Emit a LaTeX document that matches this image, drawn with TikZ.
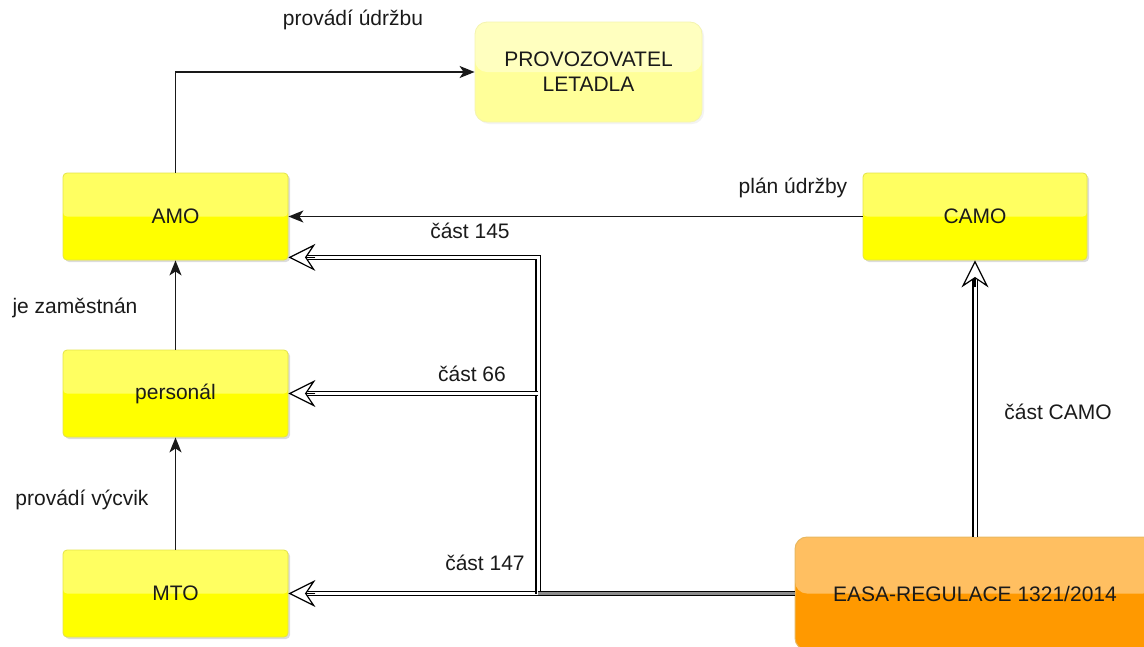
\documentclass[tikz,border=0pt]{standalone}
\usepackage{fontspec}
\setmainfont{Liberation Sans}
\usetikzlibrary{arrows.meta,shadows,calc}
\definecolor{boxyellow}{HTML}{FFFF00}
\definecolor{boxedge}{HTML}{E3E34A}
\definecolor{paleyellow}{HTML}{FFFF99}
\definecolor{paleedge}{HTML}{F4F4B0}
\definecolor{easaorange}{HTML}{FF9900}
\definecolor{easaedge}{HTML}{E8B860}
\definecolor{txt}{HTML}{1A1A1A}
\tikzset{
  glass/.style={path picture={\fill[white,opacity=0.38] (path picture bounding box.north west) rectangle (path picture bounding box.east);}},
  ybox/.style={draw=boxedge, line width=0.8pt, fill=boxyellow, rounded corners=4pt,
    minimum width=225pt, minimum height=87pt, inner sep=0pt, glass, text=txt,
    drop shadow={shadow xshift=2pt, shadow yshift=-2pt, fill=black!30, opacity=0.45}},
  pbox/.style={draw=paleedge, line width=0.8pt, fill=paleyellow, rounded corners=12pt,
    minimum width=227pt, minimum height=100pt, inner sep=0pt, glass, align=center, text=txt,
    drop shadow={shadow xshift=2pt, shadow yshift=-2pt, fill=black!12, opacity=0.4}},
  obox/.style={draw=easaedge, line width=1pt, fill=easaorange, rounded corners=12pt,
    minimum width=360pt, minimum height=113pt, inner sep=0pt, glass, text=txt},
  lbl/.style={text=txt, inner sep=0pt},
  conn/.style={draw=black!90, line width=1.6pt, -{Stealth[length=15pt,width=12pt,inset=4pt]}},
  dbl/.style={draw=black, line width=1.1pt, double=white, double distance=3pt},
  opentip/.style={draw=black, line width=1.2pt, -{Stealth[length=27pt,width=27pt,inset=9pt,fill=white]}},
}
\begin{document}
\begin{tikzpicture}[x=1pt,y=-1pt,font=\fontsize{21}{25}\selectfont]
\useasboundingbox (0,0) rectangle (1144,646);
% boxes
\node[pbox] (prov) at (588.5,72) {PROVOZOVATEL\\LETADLA};
\node[ybox] (amo) at (175.5,216.5) {AMO};
\node[ybox] (pers) at (175.5,393.5) {personál};
\node[ybox] (mto) at (175.5,593.5) {MTO};
\node[ybox, minimum width=224pt] (camo) at (975,216.5) {CAMO};
\node[obox] (easa) at (975,593.5) {EASA-REGULACE 1321/2014};
% single connectors
\draw[conn] (amo.north) |- (prov.west);
\draw[conn] (camo.west) -- (amo.east);
\draw[conn] (pers.north) -- (amo.south);
\draw[conn] (mto.north) -- (pers.south);
% double connectors
\coordinate (bus) at (538,593.5);
\coordinate (amoin) at ($(amo.south east)+(0,-3)$);
\draw[dbl, shorten >=18pt] (bus) -- (mto.east);
\draw[dbl, shorten >=18pt] (bus) |- (amoin);
\draw[dbl, shorten >=18pt] (bus |- pers.east) -- (pers.east);
\draw[dbl, double=black!45] (easa.west) -- (bus);
\draw[dbl, shorten >=18pt] (easa.north) -- (camo.south);
\draw[opentip] ($(mto.east)+(27,0)$) -- (mto.east);
\draw[opentip] ($(amoin)+(27,0)$) -- (amoin);
\draw[opentip] ($(pers.east)+(27,0)$) -- (pers.east);
\draw[opentip] ($(camo.south)+(0,27)$) -- (camo.south);
% labels
\node[lbl] (l1) at (353,20) {provádí údržbu};
\node[lbl] (l2) at (793,188) {plán údržby};
\node[lbl] (l3) at (470,231) {část 145};
\node[lbl] (l4) at (75,308) {je zaměstnán};
\node[lbl] (l5) at (472,374) {část 66};
\node[lbl] (l6) at (82,500) {provádí výcvik};
\node[lbl] (l7) at (485,563) {část 147};
\node[lbl] (l8) at (1058,412) {část CAMO};
\end{tikzpicture}
\end{document}
